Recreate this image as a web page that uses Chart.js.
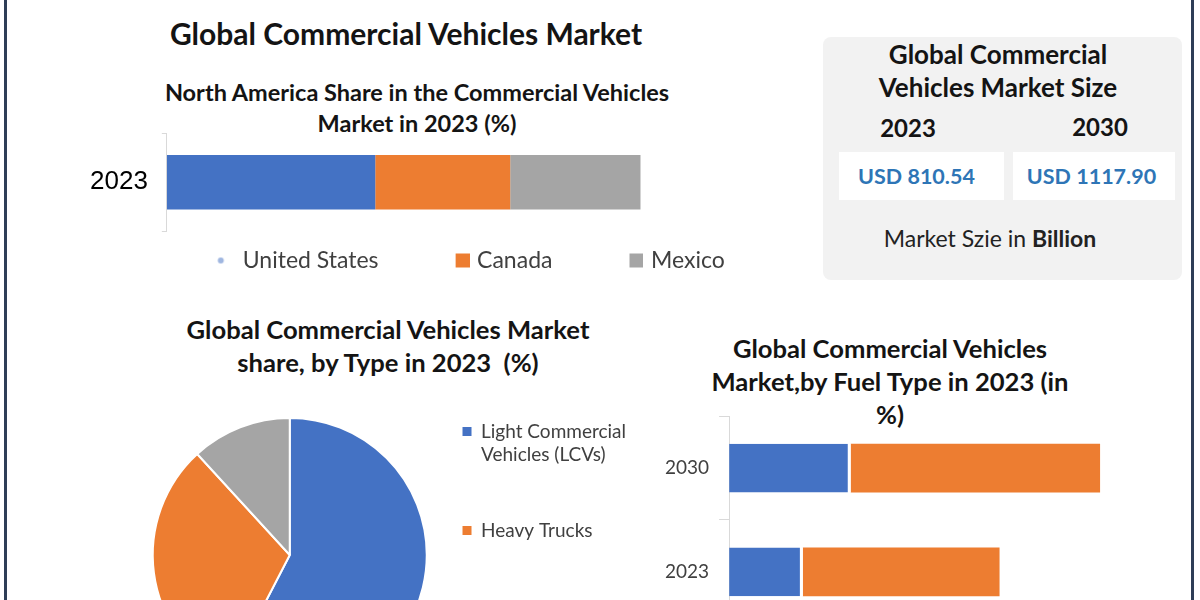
<!DOCTYPE html>
<html>
<head>
<meta charset="utf-8">
<title>Global Commercial Vehicles Market</title>
<script src="https://cdn.jsdelivr.net/npm/chart.js@4.4.1/dist/chart.umd.min.js"></script>
<style>
  body { margin: 0; width: 1200px; height: 600px; overflow: hidden; position: relative; background: #fff; font-family: Lato, "Open Sans", sans-serif; color: #141414; }
  .frame { position: absolute; top: 0; width: 3px; height: 600px; background: #2f3e57; }
  .t { position: absolute; text-align: center; font-weight: bold; white-space: nowrap; }
  .cv { position: absolute; }
  .sizebox { position: absolute; left: 823px; top: 37px; width: 359px; height: 243px; background: #f2f2f2; border-radius: 8px; }
  .val { position: absolute; top: 152px; height: 48px; line-height: 48px; background: #fff; text-align: center; font-weight: bold; font-size: 21.5px; color: #2e75b6; box-sizing: border-box; }
</style>
</head>
<body>
<div class="frame" style="left:4px"></div>
<div class="frame" style="left:1191px"></div>

<div class="t" style="left:106px;width:600px;top:15px;font-size:30px;line-height:36px">Global Commercial Vehicles Market</div>
<div class="t" style="left:117px;width:600px;top:77px;font-size:23.5px;line-height:31px">North America Share in the Commercial Vehicles<br>Market in 2023 (%)</div>

<div class="sizebox"></div>
<div class="t" style="left:823px;width:350px;top:38px;font-size:26px;line-height:33px">Global Commercial<br>Vehicles Market Size</div>
<div class="t" id="y0" style="left:858px;width:100px;top:112px;font-size:24px;line-height:32px"></div>
<div class="t" id="y1" style="left:1050px;width:100px;top:111px;font-size:24px;line-height:32px"></div>
<div class="val" id="v0" style="left:839px;width:165px;padding-right:10px"></div>
<div class="val" id="v1" style="left:1013px;width:162px;padding-right:5px"></div>
<div class="t" style="left:840px;width:300px;top:224px;font-size:23px;line-height:28px;font-weight:normal;color:#222">Market Szie in <b>Billion</b></div>

<div class="t" style="left:88px;width:600px;top:313px;font-size:25.6px;line-height:33px">Global Commercial Vehicles Market<br>share, by Type in 2023&nbsp;&nbsp;(%)</div>
<div class="t" style="left:590px;width:600px;top:332px;font-size:25.6px;line-height:33px">Global Commercial Vehicles<br>Market,by Fuel Type in 2023 (in<br>%)</div>

<div class="cv" style="left:66px;top:104px;width:745px;height:178px"><canvas id="naChart"></canvas></div>
<div class="cv" style="left:110px;top:400px;width:540px;height:300px"><canvas id="typeChart"></canvas></div>
<div class="cv" style="left:640px;top:395px;width:540px;height:250px"><canvas id="fuelChart"></canvas></div>

<script>
// North America share, 2023 (%)
const naYear = ['2023'];
const naCountries = ['United States', 'Canada', 'Mexico'];
const naShare = [44, 28.5, 27.5];

// market size, USD billion
const sizeYears = ['2023', '2030'];
const sizeValues = [810.54, 1117.90];

// share by vehicle type, 2023 (%)
const vehicleTypes = ['Light Commercial Vehicles (LCVs)', 'Heavy Trucks', 'Buses'];
const typeShare = [57.6, 30.6, 11.8];

// share by fuel type
const fuelYears = ['2030', '2023'];
const fuelTypes = ['Electric', 'Diesel'];
const fuelElectric = [30.5, 18.5];
const fuelDiesel = [62.5, 49.3];

const BLUE = '#4472c4', ORANGE = '#ed7d31', GREY = '#a5a5a5';
const FONT = 'Lato, "Open Sans", sans-serif';

sizeYears.forEach((y, i) => {
  document.getElementById('y' + i).textContent = y;
  document.getElementById('v' + i).textContent = 'USD ' + sizeValues[i].toFixed(2);
});

// legend markers for the top chart: transparent lead-in, marker at the right end
const MARK_W = 69;
function marker(color, dot) {
  const c = document.createElement('canvas');
  c.width = MARK_W + 8; c.height = 16;
  const g = c.getContext('2d');
  g.fillStyle = color;
  if (dot) { g.beginPath(); g.arc(MARK_W - 6.5, 8, 3, 0, Math.PI * 2); g.fill(); }
  else g.fillRect(MARK_W - 6, 1, 14, 14);
  return c;
}
const naColors = [BLUE, ORANGE, GREY];
const naMarkers = [marker('#9fb6e0', true), marker(ORANGE), marker(GREY)];

new Chart(document.getElementById('naChart'), {
  type: 'bar',
  data: {
    labels: naYear,
    datasets: naCountries.map((name, i) => ({
      label: name,
      data: [naShare[i]],
      backgroundColor: naColors[i],
      barPercentage: 0.56,
      categoryPercentage: 1
    }))
  },
  options: {
    indexAxis: 'y',
    responsive: true,
    maintainAspectRatio: false,
    animation: false,
    layout: { padding: { top: 0, left: 10, right: 0, bottom: 0 } },
    scales: {
      x: { stacked: true, display: false, min: 0, max: 136 },
      y: {
        stacked: true,
        grid: { drawOnChartArea: false, color: '#d9d9d9', tickLength: 5 },
        border: { color: '#d9d9d9' },
        ticks: { color: '#000', padding: 14, font: { family: '"Liberation Sans", Arial', size: 26 } }
      }
    },
    plugins: {
      tooltip: { enabled: false },
      legend: {
        position: 'bottom',
        labels: {
          usePointStyle: true,
          pointStyleWidth: MARK_W,
          padding: 18,
          color: '#404040',
          font: { family: FONT, size: 23 },
          generateLabels: chart => chart.data.datasets.map((ds, i) => ({
            text: ds.label, fillStyle: ds.backgroundColor, strokeStyle: ds.backgroundColor,
            lineWidth: 0, pointStyle: naMarkers[i], hidden: false, datasetIndex: i, fontColor: '#404040'
          }))
        }
      }
    }
  }
});

// legend text: the LCV label wraps like the original, trailing blank lines keep the wide spacing
const typeLegendText = [['Light Commercial', 'Vehicles (LCVs)', '', ''], [vehicleTypes[1], '', '', ''], vehicleTypes[2]];

new Chart(document.getElementById('typeChart'), {
  type: 'pie',
  data: {
    labels: vehicleTypes,
    datasets: [{ data: typeShare, backgroundColor: [BLUE, ORANGE, GREY], borderColor: '#fff', borderWidth: 2 }]
  },
  options: {
    responsive: true,
    maintainAspectRatio: false,
    animation: false,
    layout: { padding: { top: 17, bottom: 7, left: 12, right: 14 } },
    plugins: {
      tooltip: { enabled: false },
      legend: {
        position: 'right',
        align: 'start',
        labels: {
          boxWidth: 9, boxHeight: 9, padding: 5, color: '#404040',
          font: { family: FONT, size: 19, lineHeight: 1.237 },
          generateLabels: chart => {
            const ds = chart.data.datasets[0];
            return typeLegendText.map((text, i) => ({
              text, fillStyle: ds.backgroundColor[i], strokeStyle: ds.backgroundColor[i],
              lineWidth: 0, hidden: false, index: i, fontColor: '#404040'
            }));
          }
        }
      }
    }
  }
});

new Chart(document.getElementById('fuelChart'), {
  type: 'bar',
  data: {
    labels: fuelYears,
    datasets: [
      { label: fuelTypes[0], data: fuelElectric, backgroundColor: BLUE, borderColor: '#fff', borderWidth: { right: 3 }, borderSkipped: false, barPercentage: 0.47, categoryPercentage: 1 },
      { label: fuelTypes[1], data: fuelDiesel, backgroundColor: ORANGE, borderWidth: 0, barPercentage: 0.47, categoryPercentage: 1 }
    ]
  },
  options: {
    indexAxis: 'y',
    responsive: true,
    maintainAspectRatio: false,
    animation: false,
    layout: { padding: { top: 0, left: 15, right: 52, bottom: 0 } },
    scales: {
      x: { stacked: true, display: false, min: 0, max: 100 },
      y: {
        stacked: true,
        grid: { drawOnChartArea: false, color: '#d9d9d9', tickLength: 10 },
        border: { color: '#d9d9d9' },
        ticks: { color: '#404040', padding: 10, font: { family: FONT, size: 19 } }
      }
    },
    plugins: { tooltip: { enabled: false }, legend: { display: false } }
  }
});
</script>
</body>
</html>
